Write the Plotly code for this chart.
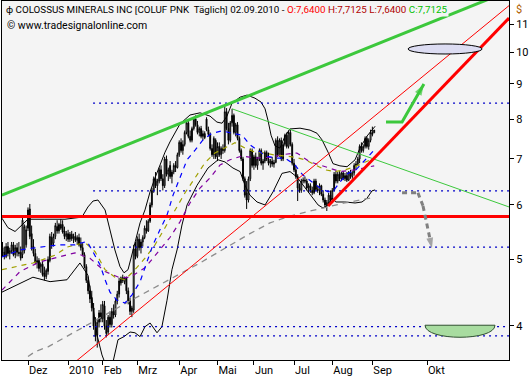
import math
import plotly.graph_objects as go

# ---------------- data ----------------
# bar positions: trading-day index (0 = 1 Dec 2009, 190 = 2 Sep 2010); future uses calendar days
bar_idx = list(range(-14, 191))

bar_open = [5.20,5.12,5.05,5.22,5.10,5.15,5.25,5.08,5.20,5.12,5.12,5.08,5.15,5.25,
            5.55,5.92,5.45,5.22,
            5.10,4.95,4.98,4.88,4.92,4.78,4.72,
            4.80,4.98,5.38,
            5.28,5.40,5.58,5.50,5.62,5.62,5.50,5.40,5.45,5.35,5.44,
            5.36,5.40,5.33,5.38,5.28,5.20,
            5.08,4.88,4.66,4.50,4.40,
            4.25,4.00,3.88,4.05,4.18,4.10,4.28,4.00,3.92,
            4.12,4.02,4.20,4.15,4.35,4.45,
            4.62,4.70,4.64,4.70,
            4.50,4.35,4.20,
            4.22,5.18,5.05,5.35,5.20,5.30,
            5.38,5.55,5.50,5.68,6.00,6.30,
            6.55,6.40,6.50,6.75,6.55,6.40,7.00,6.65,
            6.85,6.60,6.70,6.85,
            6.80,7.10,7.40,7.20,7.35,
            7.65,7.90,7.55,7.45,7.75,
            8.00,7.85,7.65,7.75,7.55,7.62,8.00,7.72,
            7.60,7.25,7.10,7.45,7.05,7.30,7.10,7.25,7.20,
            8.20,7.75,7.45,7.90,8.10,7.65,7.85,7.50,7.20,
            7.00,6.55,6.25,6.10,6.55,7.20,
            6.85,7.05,6.85,7.00,7.20,6.90,6.95,7.15,7.00,6.90,6.95,6.88,
            6.92,7.45,7.10,7.45,7.00,7.35,7.58,7.30,7.65,7.35,6.90,6.75,
            6.60,6.35,6.30,6.50,6.52,6.50,6.35,6.40,6.30,6.25,6.50,6.32,6.30,6.40,6.22,
            6.10,6.00,6.05,6.20,6.10,6.30,6.65,6.50,
            6.65,6.55,6.68,6.55,6.62,6.52,6.70,6.60,6.68,6.85,
            6.88,7.00,7.30,7.20,7.30,7.50,7.30,7.45,7.65,7.64]

bar_high = [5.30,5.22,5.28,5.30,5.20,5.30,5.30,5.25,5.28,5.30,5.22,5.75,5.62,5.60,
            5.95,6.02,5.60,5.35,
            5.18,5.05,5.02,4.95,4.98,4.88,4.85,
            5.05,5.45,5.48,
            5.45,5.65,5.70,5.65,5.72,5.70,5.58,5.50,5.52,5.48,5.50,
            5.45,5.48,5.42,5.45,5.38,5.28,
            5.12,4.92,4.72,4.58,4.50,
            4.32,4.12,4.10,4.22,4.30,4.35,4.35,4.08,4.15,
            4.20,4.25,4.30,4.38,4.50,4.70,
            4.72,4.75,4.72,4.72,
            4.55,4.40,4.28,
            5.25,5.30,5.40,5.45,5.35,5.42,
            5.60,5.70,5.72,6.05,6.35,6.60,
            6.70,6.55,6.80,6.85,6.65,7.05,7.08,6.80,
            6.95,6.75,6.90,6.95,
            7.15,7.45,7.50,7.45,7.70,
            7.95,7.98,7.70,7.80,8.05,
            8.10,7.95,7.80,7.82,7.70,7.68,8.05,7.80,
            7.65,7.35,7.55,7.50,7.40,7.40,7.30,7.35,8.35,
            8.30,7.90,7.95,8.28,8.15,7.90,7.92,7.55,7.25,
            7.05,6.60,6.50,6.60,7.25,7.25,
            7.10,7.15,7.05,7.25,7.25,7.00,7.20,7.20,7.15,7.00,7.05,6.98,
            7.50,7.55,7.50,7.52,7.40,7.62,7.65,7.70,7.72,7.40,7.00,6.85,
            6.65,6.45,6.55,6.58,6.60,6.55,6.45,6.45,6.38,6.55,6.55,6.40,6.45,6.42,6.30,
            6.15,6.10,6.25,6.30,6.35,6.70,6.72,6.70,
            6.72,6.70,6.72,6.68,6.70,6.72,6.75,6.72,6.90,6.95,
            7.05,7.35,7.40,7.35,7.55,7.55,7.50,7.72,7.80,7.7125]

bar_low = [5.05,5.00,5.02,5.05,5.00,5.10,5.05,5.02,5.05,5.05,4.98,5.02,5.10,5.20,
           5.50,5.35,5.15,5.05,
           4.92,4.85,4.80,4.78,4.72,4.66,4.68,
           4.75,4.95,5.18,
           5.22,5.35,5.45,5.45,5.52,5.45,5.35,5.32,5.30,5.30,5.32,
           5.28,5.30,5.25,5.22,5.15,5.05,
           4.85,4.62,4.45,4.32,4.20,
           3.95,3.80,3.72,3.98,4.05,4.05,3.95,3.85,3.88,
           3.98,3.98,4.10,4.12,4.30,4.40,
           4.58,4.62,4.60,4.45,
           4.30,4.15,4.12,
           4.18,5.00,5.02,5.15,5.10,5.22,
           5.35,5.45,5.48,5.65,5.95,6.25,
           6.35,6.20,6.45,6.50,6.30,6.35,6.60,6.50,
           6.55,6.45,6.65,6.70,
           6.78,7.05,7.15,7.10,7.30,
           7.60,7.50,7.40,7.40,7.70,
           7.80,7.60,7.55,7.50,7.45,7.48,7.68,7.55,
           7.20,7.05,7.00,7.00,6.95,7.05,7.00,7.12,7.15,
           7.70,7.35,7.40,7.80,7.60,7.55,7.45,7.15,6.95,
           6.50,6.15,5.92,6.05,6.50,6.80,
           6.75,6.80,6.75,6.95,6.85,6.75,6.90,6.95,6.85,6.80,6.82,6.80,
           6.90,7.05,7.05,6.95,6.95,7.30,7.25,7.25,7.30,6.85,6.70,6.55,
           6.08,6.25,6.25,6.45,6.45,6.30,6.25,6.25,6.20,6.22,6.28,6.25,6.20,6.18,6.05,
           5.95,5.88,6.00,6.05,6.08,6.28,6.45,6.45,
           6.50,6.50,6.52,6.50,6.48,6.50,6.55,6.55,6.62,6.75,
           6.85,6.90,7.15,7.15,7.25,7.25,7.22,7.40,7.55,7.64]

bar_close = [5.10,5.05,5.22,5.10,5.15,5.25,5.08,5.20,5.12,5.10,5.02,5.70,5.58,5.52,
             5.90,5.40,5.20,5.10,
             4.95,4.98,4.85,4.92,4.75,4.72,4.82,
             5.00,5.40,5.25,
             5.40,5.60,5.50,5.62,5.55,5.48,5.40,5.45,5.35,5.44,5.36,
             5.40,5.33,5.38,5.25,5.20,5.08,
             4.88,4.66,4.50,4.38,4.25,
             4.00,3.86,4.05,4.18,4.10,4.30,4.00,3.90,4.12,
             4.02,4.20,4.15,4.35,4.45,4.65,
             4.70,4.66,4.70,4.50,
             4.35,4.20,4.25,
             5.18,5.05,5.35,5.20,5.30,5.38,
             5.55,5.50,5.68,6.00,6.30,6.55,
             6.40,6.50,6.75,6.55,6.40,7.00,6.65,6.75,
             6.60,6.70,6.85,6.80,
             7.10,7.40,7.20,7.35,7.65,
             7.90,7.55,7.45,7.75,8.00,
             7.85,7.65,7.75,7.55,7.62,7.52,7.72,7.60,
             7.25,7.10,7.50,7.05,7.30,7.10,7.25,7.20,8.20,
             7.75,7.45,7.90,8.10,7.65,7.85,7.50,7.20,7.00,
             6.55,6.20,6.10,6.55,7.20,6.85,
             7.05,6.85,7.00,7.20,6.90,6.95,7.15,7.00,6.90,6.95,6.88,6.92,
             7.45,7.10,7.45,7.00,7.35,7.58,7.30,7.65,7.35,6.90,6.75,6.60,
             6.35,6.30,6.50,6.52,6.50,6.35,6.40,6.30,6.25,6.50,6.32,6.30,6.40,6.22,6.10,
             6.00,6.05,6.20,6.10,6.30,6.65,6.50,6.65,
             6.55,6.68,6.55,6.62,6.52,6.70,6.60,6.68,6.85,6.88,
             7.00,7.30,7.20,7.30,7.50,7.30,7.45,7.65,7.60,7.7125]

# Bollinger bands
bb_upper_idx = [-14.3,-11,-7.1,-3.3,0,9.3,20.3,29.6,32.9,35.7,38.4,42.3,45,47.7,50.5,52.7,54.9,56.5,58.2,59.8,
                61.5,64.2,67,69.7,72.4,75.2,77.9,80.7,83.4,88.9,94.4,99.9,103.7,106.5,109.2,112,116.4,120.2,
                124.6,127.9,130.1,131.7,133.4,135.6,138.3,141.1,143.8,149.3,154.8,158.6,161.4,164.7,167.4,
                171.2,175.1,179.5,182.2,186.1,190.5]
bb_upper = [5.74,5.56,5.49,5.61,5.72,5.72,5.72,5.76,5.96,6.08,6.10,5.90,5.52,5.16,4.88,4.78,4.83,5.02,5.25,5.47,
            5.65,5.90,6.27,6.57,6.86,7.16,7.41,7.66,7.87,8.11,8.17,8.08,7.92,7.89,8.08,8.44,8.61,8.67,
            8.58,8.47,8.28,7.97,7.58,7.31,7.26,7.56,7.74,7.76,7.71,7.63,7.46,7.16,6.89,
            6.84,6.82,6.98,7.26,7.56,7.81]
bb_lower_idx = [-14.3,-6,2.7,12.1,21.4,28.5,32.9,35.1,37.9,40.6,43.4,46.7,49.4,52.7,56,58.7,61.5,64.2,67,70.8,
                73.5,76.3,79,81.8,84.5,87.3,92.8,98.8,104.3,108.1,112.5,116.4,119.1,121.8,125.7,130.1,134.5,
                139.4,143.8,147.6,150.9,154.8,159.2,161.9,164.7,166.8,169,173.9,179.5,183.3,186.1,188.8,190.5]
bb_lower = [4.48,4.59,4.71,4.64,4.67,4.94,4.74,4.36,3.88,3.63,3.47,3.55,3.82,3.86,3.92,3.91,3.86,3.99,4.04,3.91,
            3.99,4.36,4.83,5.16,5.61,6.00,6.41,6.79,6.98,6.93,6.79,6.71,6.41,6.20,6.06,6.00,6.27,
            6.67,6.71,6.59,6.41,6.20,6.00,5.94,6.00,6.14,6.06,6.06,6.04,6.06,6.14,6.29,6.31]

# moving averages
ma_blue_idx = [-14.3,-4.4,6.6,17.6,25.8,32.4,35.1,39.5,42.3,45,48.8,53.2,57.1,61.5,65.3,68.6,72.4,76.3,79.6,83.4,
               87.3,91.7,96,101,106.5,112,117.5,121.8,126.2,130.6,135.6,141.1,146.5,150.9,155.9,160.3,164.7,
               168,171.2,175.6,180,184.9,190]
ma_blue = [5.04,5.16,5.21,5.25,5.25,5.31,5.16,4.91,4.67,4.48,4.36,4.32,4.44,4.64,4.96,5.25,5.52,5.80,6.20,6.59,
           6.98,7.21,7.46,7.63,7.69,7.63,7.58,7.34,7.21,7.07,7.02,7.02,6.86,6.63,6.48,6.35,6.27,
           6.31,6.48,6.67,6.75,6.98,7.21]
ma_olive_idx = [-14.3,-7.1,2.7,14.8,21.4,31.3,36.8,42.3,47.7,53.2,58.7,64.2,69.7,75.2,80.7,86.2,91.7,97.1,102.6,
                108.1,113.6,119.1,124.6,130.1,135.6,141.1,146.5,152,157.5,163,168.5,173.9,179.5,184.9,190]
ma_olive = [4.83,4.88,4.94,5.07,5.21,5.29,5.13,4.83,4.71,4.67,4.83,5.02,5.25,5.56,5.90,6.25,6.57,6.91,7.14,
            7.26,7.39,7.26,7.16,7.14,7.09,7.07,7.04,6.98,6.86,6.75,6.71,6.75,6.82,6.93,7.02]
ma_purple_idx = [-14.3,-4.4,6.6,17.6,25.8,34,42.3,50.5,56,64.2,72.4,77.9,83.4,88.9,94.4,99.9,105.4,110.9,117.5,
                 124.6,132.8,141.1,147.6,154.8,160.3,165.8,171.2,179.5,190]
ma_purple = [4.51,4.80,4.96,5.04,5.11,5.02,4.80,4.70,4.71,4.86,5.16,5.38,5.67,6.04,6.35,6.57,6.86,6.98,7.07,
             7.02,7.04,7.11,7.14,6.93,6.86,6.79,6.71,6.75,6.84]
ma_gray_idx = [0,3.8,11,25.8,39.5,53.2,67,80.7,94.4,108.1,121.8,132.8,143.8,154.8,164.1,173.9,182.2,190.5]
ma_gray = [3.61,3.67,3.73,3.92,4.11,4.31,4.51,4.72,4.94,5.19,5.45,5.65,5.78,5.88,5.96,6.04,6.10,6.16]

# drawn trend lines / levels
support_red_level = 5.77
support_red_span = [-14.3, 264]
green_resist_idx = [-14.3, 264]
green_resist_px = [6.20, 12.29]
green_thin_idx = [112, 264]
green_thin_px = [8.28, 5.96]
red_thin_idx = [25, 264]
red_thin_px = [3.53, 11.70]
red_thick_idx = [164.7, 264]
red_thick_px = [5.98, 11.22]
dotted_levels = [8.44, 6.29, 5.21, 3.99, 3.87]
dotted_start = [35.7, 35.7, 35.7, -12.6, 35.7]
dotted_end = 264
green_arrow_idx = [196.5, 205.3, 217.3]
green_arrow_px = [7.92, 7.92, 9.00]
gray_arrow_idx = [205.3, 214, 216.8, 219.5, 221.7]
gray_arrow_px = [6.25, 6.25, 5.98, 5.52, 5.19]
target_ellipse = dict(x0=208.6, x1=249.2, y0=9.95, y1=10.29)
target_bowl = dict(x0=217.9, x1=256.3, top=4.01, ctrl=3.80)

# axes
x_range = [-14.27, 263.99]
y_range_price = [3.569, 11.883]
month_ticks = [0, 22, 41, 60, 83, 104, 124, 146, 167, 189, 219]
month_labels = ['Dez', '2010', 'Feb', 'Mrz', 'Apr', 'Mai', 'Jun', 'Jul', 'Aug', 'Sep', 'Okt']
price_ticks = [4, 5, 6, 7, 8, 9, 10, 11]

title_name = 'COLOSSUS MINERALS INC [COLUF PNK&nbsp; Täglich] 02.09.2010 -'
q_open, q_high, q_low, q_close = '7,6400', '7,7125', '7,6400', '7,7125'
copyright_text = '© www.tradesignalonline.com'

# ---------------- figure ----------------
fig = go.Figure()

fig.add_trace(go.Candlestick(
    x=bar_idx, open=bar_open, high=bar_high, low=bar_low, close=bar_close,
    increasing=dict(line=dict(color='black', width=1), fillcolor='white'),
    decreasing=dict(line=dict(color='black', width=1), fillcolor='black'),
    whiskerwidth=0, hoverinfo='skip'))

def line(x, y, color, width=1, dash='solid'):
    fig.add_trace(go.Scatter(x=x, y=y, mode='lines', line=dict(color=color, width=width, dash=dash),
                             hoverinfo='skip'))

line(bb_upper_idx, bb_upper, 'black', 1)
line(bb_lower_idx, bb_lower, 'black', 1)
line(ma_gray_idx, ma_gray, '#8c8c8c', 1.3, '6px,5px')
line(ma_purple_idx, ma_purple, '#8000a0', 1.2, '5px,5px')
line(ma_olive_idx, ma_olive, '#a0a000', 1.2, '5px,5px')
line(ma_blue_idx, ma_blue, '#0000ff', 1.2, '5px,5px')

for lvl, x0 in zip(dotted_levels, dotted_start):
    line([x0, dotted_end], [lvl, lvl], '#0000c8', 1.3, '2px,4px')

line(support_red_span, [support_red_level, support_red_level], '#ff0000', 3)
line(green_resist_idx, green_resist_px, '#3cc83c', 3)
line(green_thin_idx, green_thin_px, '#3cc83c', 1)
line(red_thin_idx, red_thin_px, '#ff0000', 1)
line(red_thick_idx, red_thick_px, '#ff0000', 3)

fig.add_trace(go.Scatter(x=green_arrow_idx, y=green_arrow_px, mode='lines+markers',
                         line=dict(color='#3cc83c', width=3),
                         marker=dict(symbol=['circle', 'circle', 'arrow'], size=[0, 0, 12],
                                     angleref='previous', color='#3cc83c', line=dict(width=0)),
                         hoverinfo='skip'))
fig.add_trace(go.Scatter(x=gray_arrow_idx, y=gray_arrow_px, mode='lines+markers',
                         line=dict(color='#808080', width=3, dash='5px,4px'),
                         marker=dict(symbol=['circle'] * 4 + ['arrow'], size=[0, 0, 0, 0, 11],
                                     angleref='previous', color='#808080', line=dict(width=0)),
                         hoverinfo='skip'))

fig.add_shape(type='circle', xref='x', yref='y', **target_ellipse,
              fillcolor='#dcdcf2', line=dict(color='black', width=1))
b = target_bowl
fig.add_shape(type='path', xref='x', yref='y',
              path=f"M {b['x0']},{b['top']} C {b['x0']},{b['ctrl']} {b['x1']},{b['ctrl']} {b['x1']},{b['top']} Z",
              fillcolor='#a8dca0', line=dict(color='#305030', width=1))

font_family = 'Roboto'
header = (f"ф {title_name} <span style='color:#ff0000'>O:{q_open}</span> "
          f"<span style='color:#b00000'>H:{q_high} L:{q_low}</span> "
          f"<span style='color:#00c000'>C:{q_close}</span>")
fig.add_annotation(xref='paper', yref='paper', x=0, y=1, xanchor='left', yanchor='top',
                   xshift=2, yshift=-1, text=header, showarrow=False, bgcolor='#f4f4f4',
                   font=dict(family=font_family, size=9.8, color='black'))
fig.add_annotation(xref='paper', yref='paper', x=0, y=1, xanchor='left', yanchor='top',
                   xshift=3, yshift=-16, text=copyright_text, showarrow=False,
                   font=dict(family=font_family, size=10.5, color='black'))
fig.add_annotation(xref='paper', yref='paper', x=1, y=1, xanchor='left', yanchor='top',
                   xshift=5, yshift=0, text='$', showarrow=False,
                   font=dict(family=font_family, size=11, color='#b06000'))

fig.update_layout(
    width=531, height=380, margin=dict(l=2, r=22, t=1, b=20),
    paper_bgcolor='white', plot_bgcolor='#f4f4f4', showlegend=False,
    xaxis=dict(range=x_range, tickvals=month_ticks, ticktext=month_labels,
               ticks='outside', ticklen=4, tickcolor='black', showgrid=False, zeroline=False,
               showline=True, linecolor='black', linewidth=1, mirror=True,
               ticklabelposition='outside right', ticklabeloverflow='allow',
               tickfont=dict(family=font_family, size=11, color='black'),
               rangeslider=dict(visible=False), fixedrange=True),
    yaxis=dict(type='log', range=[math.log10(y_range_price[0]), math.log10(y_range_price[1])],
               side='right', tickvals=price_ticks, ticktext=[str(t) for t in price_ticks],
               ticks='outside', ticklen=4, tickcolor='black', showgrid=False, zeroline=False,
               showline=True, linecolor='black', linewidth=1, mirror=True,
               ticklabeloverflow='allow', fixedrange=True,
               tickfont=dict(family=font_family, size=11, color='black')),
)

fig.write_html('out.html', config={'displayModeBar': False, 'staticPlot': True},
               post_script="document.body.style.margin='0';document.body.style.padding='0';")
